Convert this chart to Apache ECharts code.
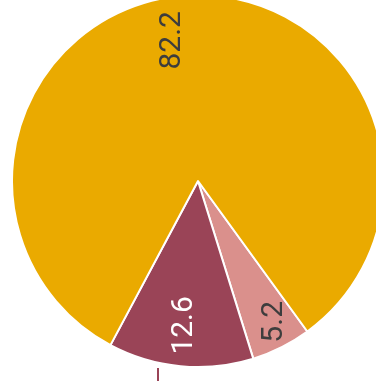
<!DOCTYPE html>
<html>
<head>
<meta charset="utf-8">
<script src="https://cdn.jsdelivr.net/npm/echarts@6/dist/echarts.min.js"></script>
<style>
  html, body { margin: 0; padding: 0; background: #ffffff; }
  #chart { width: 376px; height: 381px; }
</style>
</head>
<body>
<div id="chart"></div>
<script>
// Shares, listed clockwise from the lower-right edge
const categories = ['C', 'B', 'A'];
const values = [5.2, 12.6, 82.2];
const colors = ['#DA908C', '#9A4457', '#EAAA00'];
const labelColors = ['#3d3d3d', '#ffffff', '#3d3d3d'];
// label nudges in the rotated text frame:
// blank line placed before (+) or after (-) the value, and extra right padding
const labelLineShift = [25, 0, -32];
const labelPadRight = [26, 4, 4];

const chart = echarts.init(document.getElementById('chart'), null, { renderer: 'canvas' });

const sliceData = categories.map((name, i) => ({
  name,
  value: values[i],
  itemStyle: { color: colors[i] }
}));

const labelData = categories.map((name, i) => {
  const txt = values[i].toFixed(1);
  const s = labelLineShift[i];
  const label = {
    color: labelColors[i],
    padding: [0, labelPadRight[i], 0, 0]
  };
  if (s > 0) {
    label.formatter = ' \n' + txt;
    label.lineHeight = s;
  } else if (s < 0) {
    label.formatter = txt + '\n ';
    label.lineHeight = -s;
  } else {
    label.formatter = txt;
  }
  return { name, value: values[i], label };
});

const center = [198, 181];
const startAngle = 306;

chart.setOption({
  animation: false,
  series: [
    {
      type: 'pie',
      center: center,
      radius: [0, 186],
      startAngle: startAngle,
      clockwise: true,
      silent: true,
      label: { show: false },
      labelLine: { show: false },
      itemStyle: { borderColor: '#ffffff', borderWidth: 2 },
      data: sliceData
    },
    {
      // transparent ring that carries the value labels at ~3/4 radius
      type: 'pie',
      center: center,
      radius: [94, 186],
      startAngle: startAngle,
      clockwise: true,
      silent: true,
      itemStyle: { color: 'transparent', borderWidth: 0 },
      labelLine: { show: false },
      label: {
        show: true,
        position: 'inside',
        rotate: 90,
        fontFamily: 'Roboto',
        fontSize: 30
      },
      data: labelData
    }
  ],
  graphic: [
    {
      type: 'line',
      shape: { x1: 158, y1: 368, x2: 158, y2: 381 },
      style: { stroke: '#9A4457', lineWidth: 2 }
    }
  ]
});
</script>
</body>
</html>
